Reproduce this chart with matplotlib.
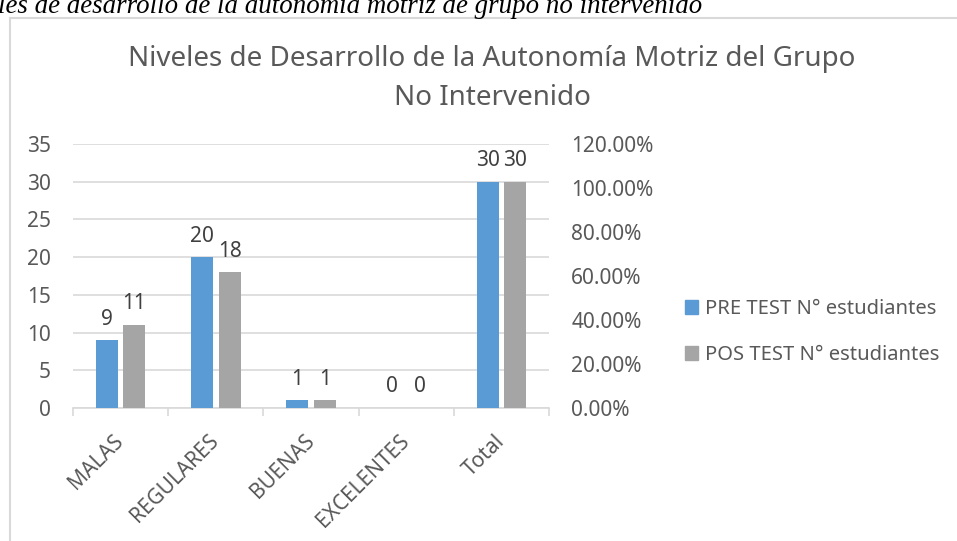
import matplotlib
matplotlib.use("Agg")
import matplotlib.pyplot as plt
import numpy as np
from matplotlib.patches import Patch
from matplotlib.lines import Line2D

categories = ["MALAS", "REGULARES", "BUENAS", "EXCELENTES", "Total"]
pre_test = [9, 20, 1, 0, 30]
pos_test = [11, 18, 1, 0, 30]
series_names = ["PRE TEST N° estudiantes", "POS TEST N° estudiantes"]
left_ticks = [0, 5, 10, 15, 20, 25, 30, 35]
right_ticks = [0.0, 0.2, 0.4, 0.6, 0.8, 1.0, 1.2]

blue = "#5b9bd5"
gray = "#a5a5a5"
txt = "#595959"
grid = "#d9d9d9"
font = "Noto Sans"

W, H = 957, 541
fig = plt.figure(figsize=(W / 100, H / 100), dpi=100)

# caption (cropped at top, as in the source image)
fig.text(-2 / W, 1 - 13 / H, "les de desarrollo de la autonomía motriz de grupo no intervenido",
         family="Liberation Serif", style="italic", fontsize=19.4, color="black",
         ha="left", va="baseline")

# chart frame (left and top edges visible)
fig.add_artist(Line2D([10 / W, 10 / W], [0, 1 - 18 / H], transform=fig.transFigure, color=grid, lw=1.5))
fig.add_artist(Line2D([10 / W, 1], [1 - 18 / H, 1 - 18 / H], transform=fig.transFigure, color=grid, lw=1.5))

# title
fig.text(492 / W, 1 - 59 / H, "Niveles de Desarrollo de la Autonomía Motriz del Grupo",
         family=font, fontsize=20, color=txt, ha="center", va="center")
fig.text(492 / W, 1 - 98 / H, "No Intervenido",
         family=font, fontsize=20, color=txt, ha="center", va="center")

ax = fig.add_axes([73 / W, 1 - 408 / H, (549 - 73) / W, (408 - 144) / H])
x = np.arange(len(categories))
bw = 0.23
off = 0.145
b1 = ax.bar(x - off, pre_test, bw, color=blue, zorder=3)
b2 = ax.bar(x + off, pos_test, bw, color=gray, zorder=3)

for bars, vals in ((b1, pre_test), (b2, pos_test)):
    for b, v in zip(bars, vals):
        ax.text(b.get_x() + b.get_width() / 2, v + 1.4, f"{v}", ha="center", va="bottom",
                family=font, fontsize=15, color="#404040")

ax.set_xlim(-0.5, len(categories) - 0.5)
ax.set_ylim(0, 35)
ax.set_yticks(left_ticks)
ax.yaxis.grid(True, color=grid, lw=1.2, zorder=0)
ax.set_axisbelow(True)
for s in ["top", "right", "left"]:
    ax.spines[s].set_visible(False)
ax.spines["bottom"].set_color(grid)
ax.spines["bottom"].set_linewidth(1.2)
ax.tick_params(axis="y", length=0, pad=16, labelsize=15, labelcolor=txt)
for lbl in ax.get_yticklabels():
    lbl.set_family(font)

ax.set_xticks(np.arange(-0.5, len(categories), 1.0))
ax.set_xticklabels([])
ax.tick_params(axis="x", length=6, color=grid, width=1.2, direction="out")
for i, c in enumerate(categories):
    ax.text(i + 0.0, -4.0, c, rotation=45, rotation_mode="anchor", ha="right", va="center",
            family=font, fontsize=15, color=txt)

ax2 = ax.twinx()
ax2.set_ylim(0, 1.2)
ax2.set_yticks(right_ticks)
ax2.set_yticklabels([f"{t * 100:.2f}%" for t in right_ticks])
for s in ["top", "right", "left", "bottom"]:
    ax2.spines[s].set_visible(False)
ax2.tick_params(axis="y", length=0, pad=16, labelsize=15, labelcolor=txt)
for lbl in ax2.get_yticklabels():
    lbl.set_family(font)

handles = [Patch(color=blue), Patch(color=gray)]
fig.legend(handles, series_names, loc="upper left", bbox_to_anchor=(685 / W, 1 - 299 / H),
           frameon=False, prop={"family": font, "size": 14.5}, labelcolor=txt,
           handlelength=0.65, handleheight=0.65, handletextpad=0.35, labelspacing=1.3,
           borderaxespad=0, borderpad=0)

fig.savefig("out.png", dpi=100)
